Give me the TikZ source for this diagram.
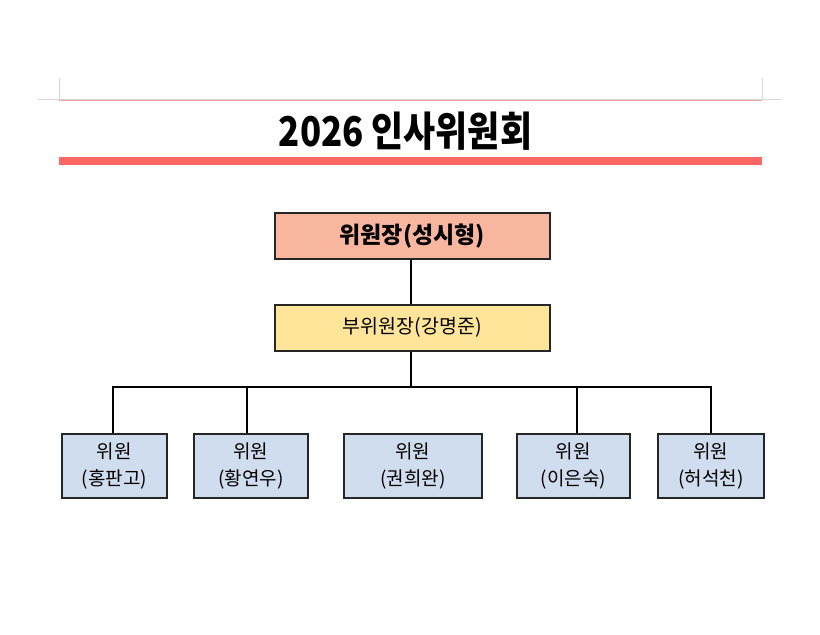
\documentclass[tikz,border=0pt]{standalone}
\usepackage{fontspec}
\setmainfont{Noto Sans CJK KR}
\definecolor{salmon}{RGB}{248,182,158}
\definecolor{yel}{RGB}{255,229,153}
\definecolor{blu}{RGB}{207,221,238}
\definecolor{redbar}{RGB}{255,102,102}
\definecolor{pinkline}{RGB}{240,160,160}
\definecolor{grayline}{RGB}{215,215,215}
\tikzset{
  box/.style={draw=black!85, line width=1.6pt, inner sep=0pt, anchor=north west},
  conn/.style={draw=black, line width=1.6pt},
  mtext/.style={align=center, font=\fontsize{19}{27}\selectfont},
}
\begin{document}
\begin{tikzpicture}[x=1pt,y=-1pt]
\useasboundingbox (0,0) rectangle (820,635);
% page marks
\draw[grayline, line width=1pt] (38,99) -- (782,99);
\draw[grayline, line width=1pt] (59,78) -- (59,99);
\draw[grayline, line width=1pt] (762,78) -- (762,99);
\draw[pinkline, line width=1.2pt] (59,100.5) -- (762,100.5);
% title
\node (title) at (405.5,131) {\fontsize{41}{44}\selectfont\bfseries\scalebox{0.85}[1]{2026 인사위원회}};
\fill[redbar] (59,157) rectangle (762,164.5);
% boxes
\node[box, fill=salmon, minimum width=275pt, minimum height=46pt] (chair) at (274,212) {};
\node at (chair.center) {\fontsize{23}{26}\selectfont\bfseries 위원장(성시형)};
\node[box, fill=yel, minimum width=275pt, minimum height=46pt] (vice) at (274,304) {};
\node at (vice.center) {\fontsize{19.5}{22}\selectfont 부위원장(강명준)};
\node[box, fill=blu, minimum width=105pt, minimum height=64pt] (m1) at (61,433) {};
\node[mtext] at (m1.center) {위원\\(홍판고)};
\node[box, fill=blu, minimum width=114pt, minimum height=64pt] (m2) at (193,433) {};
\node[mtext] at (m2.center) {위원\\(황연우)};
\node[box, fill=blu, minimum width=138pt, minimum height=64pt] (m3) at (343,433) {};
\node[mtext] at (m3.center) {위원\\(권희완)};
\node[box, fill=blu, minimum width=113pt, minimum height=64pt] (m4) at (516,433) {};
\node[mtext] at (m4.center) {위원\\(이은숙)};
\node[box, fill=blu, minimum width=106pt, minimum height=64pt] (m5) at (657,433) {};
\node[mtext] at (m5.center) {위원\\(허석천)};
% connectors
\coordinate (busL) at (113,387);
\coordinate (busR) at (711,387);
\coordinate (busM) at (411,387);
\draw[conn] (chair.south -| busM) -- (vice.north -| busM);
\draw[conn] (vice.south -| busM) -- (busM);
\draw[conn] (m1.north -| busL) -- (busL) -- (busR) -- (m5.north -| busR);
\draw[conn] (247,433) -- (247,387);
\draw[conn] (577,433) -- (577,387);
\end{tikzpicture}
\end{document}
